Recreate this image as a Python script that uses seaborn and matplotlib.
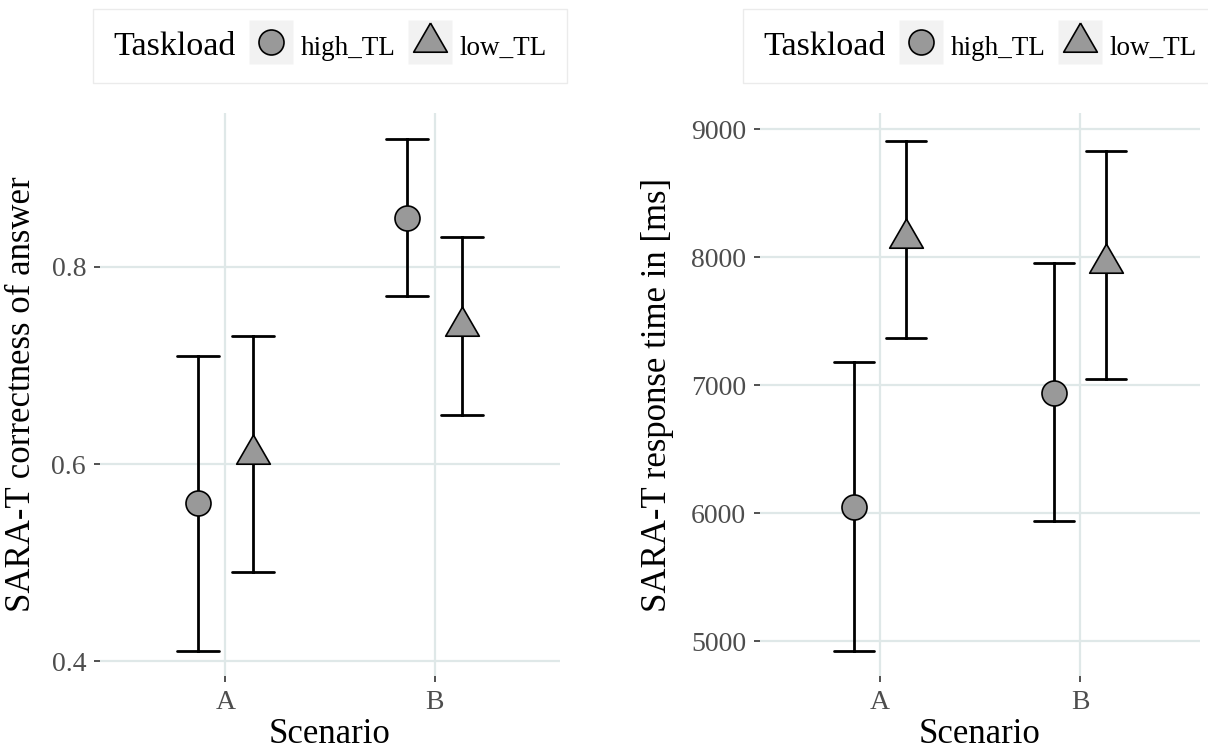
import numpy as np
import pandas as pd
import matplotlib
matplotlib.use("Agg")
import matplotlib.pyplot as plt
import seaborn as sns
from matplotlib.lines import Line2D
from matplotlib.offsetbox import HPacker

# données : moyenne, borne basse, borne haute
scenarios = ["A", "B"]
taskloads = ["high_TL", "low_TL"]

corr_mean = {"high_TL": [0.56, 0.85], "low_TL": [0.61, 0.74]}
corr_low = {"high_TL": [0.41, 0.77], "low_TL": [0.49, 0.65]}
corr_high = {"high_TL": [0.71, 0.93], "low_TL": [0.73, 0.83]}

rt_mean = {"high_TL": [6050, 6940], "low_TL": [8150, 7950]}
rt_low = {"high_TL": [4920, 5940], "low_TL": [7370, 7050]}
rt_high = {"high_TL": [7180, 7950], "low_TL": [8910, 8830]}


def long_table(mean, low, high):
    rows = []
    for tl in taskloads:
        for i, sc in enumerate(scenarios):
            for v in (low[tl][i], mean[tl][i], high[tl][i]):
                rows.append({"Scenario": sc, "Taskload": tl, "value": v})
    return pd.DataFrame(rows)


df_corr = long_table(corr_mean, corr_low, corr_high)
df_rt = long_table(rt_mean, rt_low, rt_high)

sns.set_theme(style="white")
plt.rcParams["font.family"] = ["Liberation Serif", "DejaVu Serif"]
plt.rcParams["text.color"] = "black"
plt.rcParams["axes.labelcolor"] = "black"

FILL = "#999999"
GRID = "#dfe8e8"
# triangle centré sur son centre de gravité (comme pch 24 de ggplot)
TRI = [(0, 1.155), (-1, -0.577), (1, -0.577), (0, 1.155)]
SIZE_O, SIZE_T = 18, 28

fig = plt.figure(figsize=(12.08, 7.52), dpi=100)
W, H = 1208, 752
ax1 = fig.add_axes([100 / W, 76 / H, 460 / W, 563 / H])
ax2 = fig.add_axes([760 / W, 76 / H, 440 / W, 563 / H])


def draw(ax, df, ylabel, ylim, yticks, ylabelpad):
    sns.pointplot(data=df, x="Scenario", y="value", hue="Taskload",
                  order=scenarios, hue_order=taskloads,
                  estimator="median", errorbar=("pi", 100),
                  dodge=0.26, markers=["o", TRI], linestyles="none",
                  palette=["black", "black"], capsize=0.2,
                  err_kws={"linewidth": 2.0}, markersize=SIZE_O,
                  markeredgewidth=1.2, legend=False, ax=ax)
    for ln in ax.lines:
        m = ln.get_marker()
        if m is None or (isinstance(m, str) and m in ("None", "", " ")):
            continue
        ln.set_markerfacecolor(FILL)
        ln.set_markeredgecolor("black")
        ln.set_zorder(5)
        if not (isinstance(m, str) and m == "o"):
            ln.set_markersize(SIZE_T)
    ax.set_xlim(-0.6, 1.6)
    ax.set_ylim(*ylim)
    ax.set_yticks(yticks)
    ax.set_xlabel("Scenario", fontsize=25, labelpad=2)
    ax.set_ylabel(ylabel, fontsize=25, labelpad=ylabelpad)
    ax.grid(True, color=GRID, linewidth=1.6)
    ax.set_axisbelow(True)
    for s in ax.spines.values():
        s.set_visible(False)
    ax.tick_params(axis="both", labelsize=20, labelcolor="#4d4d4d",
                   color="#333333", length=4, width=1.2, direction="out",
                   bottom=True, left=True, pad=6)

    # clé de légende : carré gris clair + symbole, centrés au même point
    handles = []
    for mk, sz in (("o", SIZE_O), (TRI, SIZE_T)):
        key_bg = Line2D([], [], marker="s", linestyle="none", markersize=32,
                        markerfacecolor="#f2f2f2", markeredgecolor="none")
        sym = Line2D([], [], marker=mk, linestyle="none", markersize=sz,
                     markerfacecolor=FILL, markeredgecolor="black",
                     markeredgewidth=1.2)
        handles.append((key_bg, sym))
    leg = ax.legend(handles, taskloads, title="Taskload", ncol=2,
                    loc="lower center", bbox_to_anchor=(0.5, 1 + 30 / 563),
                    borderaxespad=0, fontsize=19.5, title_fontsize=24.5,
                    handlelength=1.62, handleheight=1.6, handletextpad=0.3,
                    columnspacing=0.45, borderpad=0.72, frameon=True,
                    fancybox=False, edgecolor="#ebebeb", framealpha=1)
    leg.get_frame().set_linewidth(1.0)
    fs = leg._fontsize
    box = HPacker(pad=leg.borderpad * fs, sep=0.5 * fs, align="baseline",
                  children=[leg._legend_title_box, leg._legend_handle_box])
    box.set_figure(fig)
    box.axes = ax
    leg._legend_box = box
    leg._set_loc(leg._loc)


draw(ax1, df_corr, "SARA-T correctness of answer", (0.385, 0.956),
     [0.4, 0.6, 0.8], 10)
draw(ax2, df_rt, "SARA-T response time in [ms]", (4727, 9125),
     [5000, 6000, 7000, 8000, 9000], 12)

fig.savefig("out.png", dpi=100)
